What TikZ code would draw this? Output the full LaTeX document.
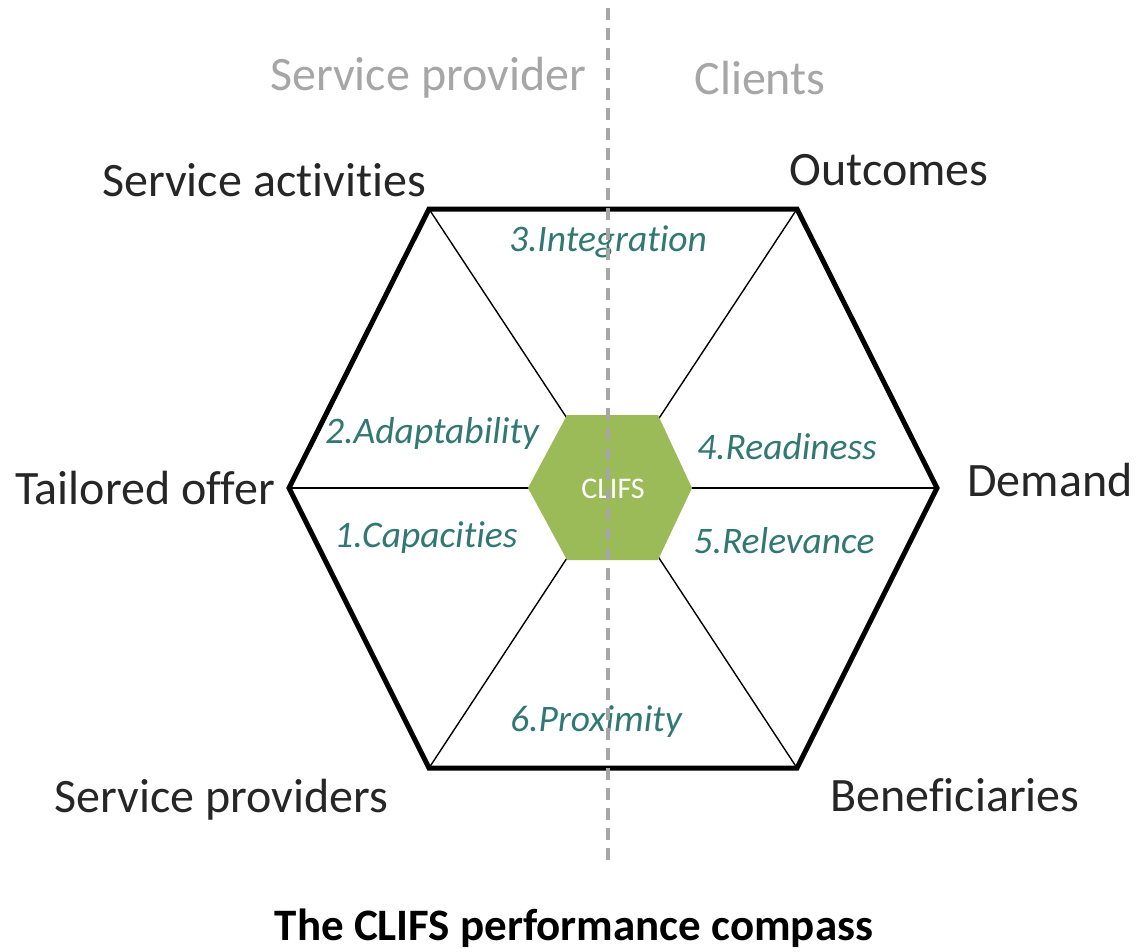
\documentclass[tikz,border=0pt]{standalone}
\usepackage{fontspec}
\setmainfont{Carlito}[Ligatures={NoCommon,NoRare,NoContextual}]
\usetikzlibrary{positioning}
\definecolor{darktext}{HTML}{262626}
\definecolor{softgray}{HTML}{A6A6A6}
\definecolor{tealtext}{HTML}{317873}
\definecolor{clifsgreen}{HTML}{9BBB59}
\newcommand{\nolig}{\kern0pt}

\begin{document}
\begin{tikzpicture}[x=1pt,y=-1pt,
  corner label/.style={text=darktext,font=\fontsize{48}{52}\selectfont,inner sep=0pt},
  side label/.style={text=softgray,font=\fontsize{48}{52}\selectfont,inner sep=0pt},
  part label/.style={text=tealtext,font=\fontsize{37.5}{40}\selectfont\itshape,inner sep=0pt},
  spoke/.style={draw=black,line width=1.4pt},
  rim/.style={draw=black,line width=5pt,line join=miter}]

  \useasboundingbox (0,0) rectangle (1137,951);

  % outer hexagon corners
  \coordinate (tl) at (429,209);
  \coordinate (tr) at (797,209);
  \coordinate (r)  at (937,488);
  \coordinate (br) at (797,768);
  \coordinate (bl) at (429,768);
  \coordinate (l)  at (289,488);
  \coordinate (c)  at (613,488);

  % spokes
  \foreach \v in {tl,tr,r,br,bl,l}
    \draw[spoke] (c) -- (\v);

  \draw[rim] (tl) -- (tr) -- (r) -- (br) -- (bl) -- (l) -- cycle;

  % centre hexagon
  \fill[clifsgreen] (567,415) -- (658,415) -- (692,488) -- (658,560)
    -- (567,560) -- (528,488) -- cycle;
  \node[text=white,font=\fontsize{30}{32}\selectfont,inner sep=0pt] (clifs) at (613,489) {CLIFS};

  % segment names
  \node[part label] (integ) at (608,242) {3.Integrat\nolig ion};
  \node[part label] (adapt) at (432,433) {2.Adaptability};
  \node[part label] (ready) at (787,447) {4.Readiness};
  \node[part label] (capac) at (426,538) {1.Capacit\nolig ies};
  \node[part label] (relev) at (784,541) {5.Relevance};
  \node[part label] (proxi) at (596,722) {6.Proximity};

  % corner names
  \node[corner label] (activ) at (264,180) {Service act\nolig ivit\nolig ies};
  \node[corner label] (outc)  at (889,170) {Outcomes};
  \node[corner label] (tailo) at (145,488) {Tailored offer};
  \node[corner label] (dem)   at (1050,480) {Demand};
  \node[corner label] (provs) at (221,800) {Service providers};
  \node[corner label] (benef) at (955,795) {Beneficiaries};

  % sides
  \node[side label] (prov) at (428,78) {Service provider};
  \node[side label] (cli)  at (760,78) {Clients};

  \coordinate (top) at (608,8);
  \coordinate (bot) at (608,865);
  \draw[softgray,line width=3.5pt,dash pattern=on 12pt off 8pt] (top) -- (bot);

  \node[text=black,font=\fontsize{45}{48}\selectfont\bfseries,inner sep=0pt] (title) at (574,928) {The CLIFS performance compass};

\end{tikzpicture}
\end{document}
